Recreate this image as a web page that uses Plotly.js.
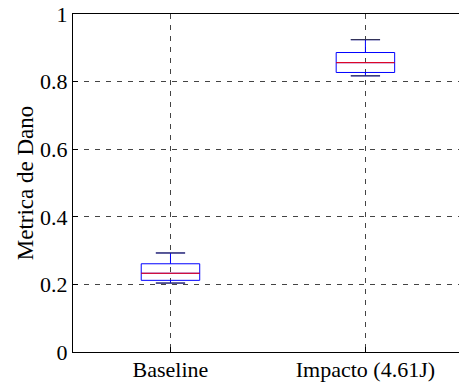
<!DOCTYPE html>
<html>
<head>
<meta charset="utf-8">
<script src="https://cdn.plot.ly/plotly-3.0.1.min.js"></script>
<style>html,body{margin:0;padding:0;background:#fff;}#chart{width:459px;height:385px;}</style>
</head>
<body>
<div id="chart"></div>
<script>
// Data
const categories = ["Baseline", "Impacto (4.61J)"];
const positions = [1, 2];
const lowerWhisker = [0.204, 0.817];
const q1Values = [0.212, 0.827];
const medianValues = [0.233, 0.856];
const q3Values = [0.261, 0.886];
const upperWhisker = [0.293, 0.924];
const yTickVals = [0, 0.2, 0.4, 0.6, 0.8, 1];
const yTickText = ["0", "0.2", "0.4", "0.6", "0.8", "1"];

const boxWidth = 0.3;
const capWidth = 0.15;

const boxTrace = {
  type: "box",
  x: positions,
  q1: q1Values,
  median: medianValues,
  q3: q3Values,
  lowerfence: lowerWhisker,
  upperfence: upperWhisker,
  width: boxWidth,
  whiskerwidth: 0.5,
  line: {color: "#0000ff", width: 1},
  fillcolor: "rgba(0,0,0,0)",
  boxpoints: false,
  hoverinfo: "skip",
  showlegend: false
};

// red median lines
const medX = [], medY = [];
positions.forEach((p, i) => {
  medX.push(p - boxWidth / 2, p + boxWidth / 2, null);
  medY.push(medianValues[i], medianValues[i], null);
});
const medianTrace = {
  type: "scatter", mode: "lines", x: medX, y: medY,
  line: {color: "#ff0000", width: 1}, hoverinfo: "skip", showlegend: false
};

// dark whisker caps
const capX = [], capY = [];
positions.forEach((p, i) => {
  capX.push(p - capWidth / 2, p + capWidth / 2, null, p - capWidth / 2, p + capWidth / 2, null);
  capY.push(upperWhisker[i], upperWhisker[i], null, lowerWhisker[i], lowerWhisker[i], null);
});
const capTrace = {
  type: "scatter", mode: "lines", x: capX, y: capY,
  line: {color: "#333333", width: 1}, hoverinfo: "skip", showlegend: false
};

const tickFont = {family: "Liberation Serif, Times New Roman, serif", size: 22, color: "#000"};
const titleFont = {family: "Liberation Serif, Times New Roman, serif", size: 23, color: "#000"};

const layout = {
  width: 459, height: 385,
  margin: {l: 73, r: 0, t: 14, b: 33, pad: 0},
  paper_bgcolor: "#fff", plot_bgcolor: "#fff",
  font: tickFont,
  showlegend: false,
  xaxis: {
    range: [0.5, 2.48],
    tickvals: positions, ticktext: categories,
    showline: true, linecolor: "#000", linewidth: 1, mirror: true,
    ticks: "inside", ticklen: 5, tickcolor: "#000",
    showgrid: true, gridcolor: "#444", gridwidth: 1, griddash: "5px,6px",
    zeroline: false, tickfont: tickFont, ticklabelstandoff: -2, fixedrange: true
  },
  yaxis: {
    range: [0, 1],
    tickvals: yTickVals, ticktext: yTickText,
    showline: true, linecolor: "#000", linewidth: 1, mirror: false,
    ticks: "inside", ticklen: 5, tickcolor: "#000",
    showgrid: true, gridcolor: "#444", gridwidth: 1, griddash: "5px,6px",
    zeroline: false, tickfont: tickFont,
    title: {text: "Metrica de Dano", font: titleFont, standoff: 0},
    fixedrange: true
  }
};

Plotly.newPlot("chart", [boxTrace, medianTrace, capTrace], layout, {displayModeBar: false, staticPlot: true});
</script>
</body>
</html>
